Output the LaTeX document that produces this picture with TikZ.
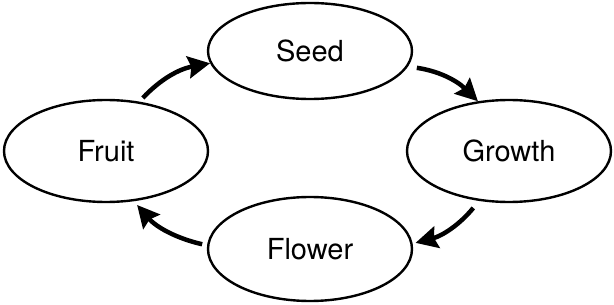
\documentclass[tikz,border=0pt]{standalone}
\usepackage{fontspec}
\setmainfont{TeX Gyre Heros}
\usetikzlibrary{shapes.geometric, arrows.meta}

\begin{document}
\begin{tikzpicture}[
  x=1pt, y=-1pt,
  stage/.style={draw, ellipse, line width=2.4pt, inner sep=0pt,
                minimum width=204pt, minimum height=102pt,
                font=\fontsize{29}{35}\selectfont},
  arr/.style={-{Stealth[length=22pt, width=22pt, inset=3pt]}, line width=4.5pt}
]
\useasboundingbox (0,0) rectangle (614,305);
\node[stage, minimum height=96pt] (seed) at (310,51) {Seed};
\node[stage] (growth) at (509,151) {Growth};
\node[stage, minimum height=104pt] (flower) at (310,249) {Flower};
\node[stage] (fruit)  at (106,151) {Fruit};
\draw[arr, shorten <=5pt] (fruit.56) to[bend left=18] (seed.187);
\draw[arr, shorten <=9pt] (seed.-9) to[bend left=18] (growth.122);
\draw[arr, shorten <=9pt, shorten >=3pt] (growth.-121) to[bend left=18] (flower.3);
\draw[arr, shorten <=5pt, shorten >=5pt] (flower.178) to[bend left=18] (fruit.-61);
\end{tikzpicture}
\end{document}
